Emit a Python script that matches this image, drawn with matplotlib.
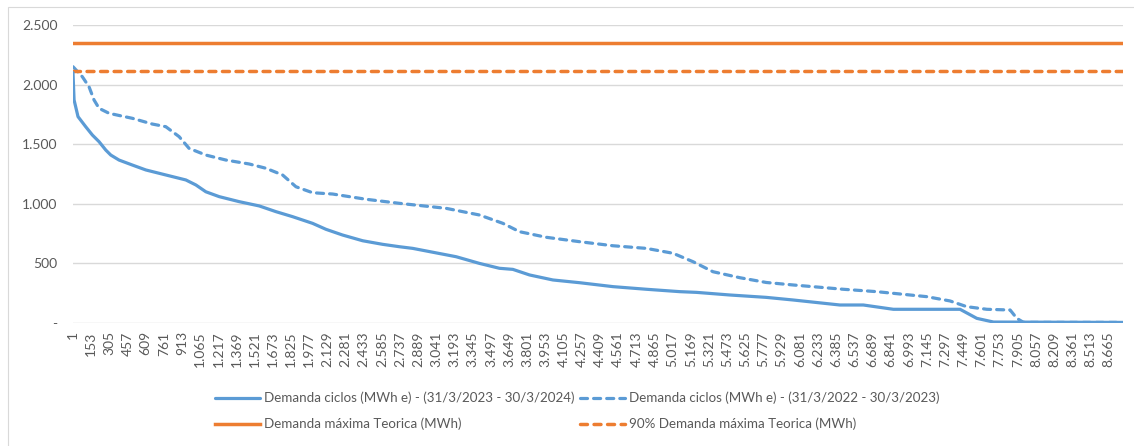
import matplotlib
matplotlib.use("Agg")
import matplotlib.pyplot as plt
from matplotlib.ticker import FuncFormatter, FixedLocator
from matplotlib.patches import Rectangle

plt.rcParams['font.family'] = ['Lato', 'DejaVu Sans']

# ---- data (hour rank, MWh) ----
horas_2023 = [1, 10, 43, 107, 163, 219, 275, 317, 386, 498, 610, 777, 945, 1029,
              1112, 1224, 1391, 1559, 1699, 1838, 2005, 2117, 2256, 2424, 2591, 2731,
              2843, 3206, 3401, 3568, 3680, 3820, 4015, 4239, 4518, 4797, 5076, 5216,
              5495, 5800, 6025, 6416, 6612, 6863, 7421, 7561, 7701, 8784]
demanda_2023 = [2100, 1871, 1731, 1647, 1577, 1521, 1451, 1409, 1367, 1325, 1284, 1242,
                1200, 1158, 1101, 1060, 1018, 982, 934, 892, 836, 786, 738, 690, 660, 640,
                626, 556, 500, 459, 450, 403, 361, 338, 305, 283, 263, 257,
                235, 215, 193, 151, 151, 115, 115, 39, 8, 5]

horas_2022 = [1, 79, 135, 177, 219, 303, 498, 665, 777, 889, 972, 1112, 1280, 1475,
              1615, 1754, 1866, 2005, 2173, 2452, 2731, 3122, 3401, 3597, 3736, 3960,
              4239, 4518, 4797, 5020, 5188, 5355, 5579, 5800, 6025, 6444, 6723, 7142,
              7337, 7477, 7645, 7840, 7896, 7952, 8760]
demanda_2022 = [2150, 2066, 1982, 1871, 1801, 1759, 1717, 1669, 1647, 1563, 1465, 1409,
                1367, 1334, 1298, 1242, 1143, 1093, 1082, 1038, 1004, 962, 906, 836, 766,
                719, 682, 648, 626, 585, 514, 430, 380, 340, 319, 283, 263, 221,
                185, 137, 115, 109, 39, 5, 5]

demanda_maxima = 2350
demanda_90 = 0.9 * demanda_maxima
n_horas = 8784

x_ticks = list(range(1, 8666, 152))
y_ticks = [0, 500, 1000, 1500, 2000, 2500]

labels = ["Demanda ciclos (MWh e) - (31/3/2023 - 30/3/2024)",
          "Demanda ciclos (MWh e) - (31/3/2022 - 30/3/2023)",
          "Demanda máxima Teorica (MWh)",
          "90% Demanda máxima Teorica (MWh)"]

BLUE = "#5B9BD5"
ORANGE = "#ED7D31"
GRID = "#D9D9D9"
TXT = "#595959"

W, H = 1134, 446
fig = plt.figure(figsize=(W / 100, H / 100), dpi=100)
ax = fig.add_axes([73 / W, 1 - 323 / H, 1050 / W, 298 / H])

l1, = ax.plot(horas_2023, demanda_2023, color=BLUE, lw=2.3, solid_capstyle='round',
              solid_joinstyle='round', zorder=4)
l2, = ax.plot(horas_2022, demanda_2022, color=BLUE, lw=2.3, dashes=(2.2, 1.9),
              dash_capstyle='round', zorder=3)
l3, = ax.plot([1, n_horas], [demanda_maxima, demanda_maxima], color=ORANGE, lw=2.5, zorder=3)
l4, = ax.plot([1, n_horas], [demanda_90, demanda_90], color=ORANGE, lw=2.5,
              dashes=(2.0, 1.9), dash_capstyle='round', zorder=3)

ax.set_xlim(1, n_horas)
ax.set_ylim(0, 2500)

def fmt_num(v):
    return f"{int(round(v)):,}".replace(",", ".")

ax.xaxis.set_major_locator(FixedLocator(x_ticks))
ax.xaxis.set_major_formatter(FuncFormatter(lambda v, p: fmt_num(v)))
ax.yaxis.set_major_locator(FixedLocator(y_ticks))
ax.yaxis.set_major_formatter(FuncFormatter(lambda v, p: "-" if v == 0 else fmt_num(v)))

for lab in ax.get_xticklabels():
    lab.set_rotation(90)
ax.tick_params(axis='x', length=0, pad=6, labelsize=10, labelcolor=TXT)
ax.tick_params(axis='y', length=0, pad=11, labelsize=10, labelcolor=TXT)
for s in ax.spines.values():
    s.set_visible(False)
ax.grid(axis='y', color=GRID, lw=1.0)
ax.set_axisbelow(True)

handles = [l1, l3, l2, l4]
leg_labels = [labels[0], labels[2], labels[1], labels[3]]
leg = fig.legend(handles, leg_labels, ncol=2, loc='center',
                 bbox_to_anchor=(577 / W, 1 - 411 / H), frameon=False,
                 fontsize=9.6, handlelength=3.4, handletextpad=0.3,
                 columnspacing=0.4, labelspacing=1.0, labelcolor=TXT,
                 borderpad=0.2)

fig.patches.append(Rectangle((8 / W, -0.1), 2, 1 - 7 / H + 0.1, transform=fig.transFigure,
                             fill=False, edgecolor=GRID, lw=0.8))

fig.savefig("out.png", dpi=100)
